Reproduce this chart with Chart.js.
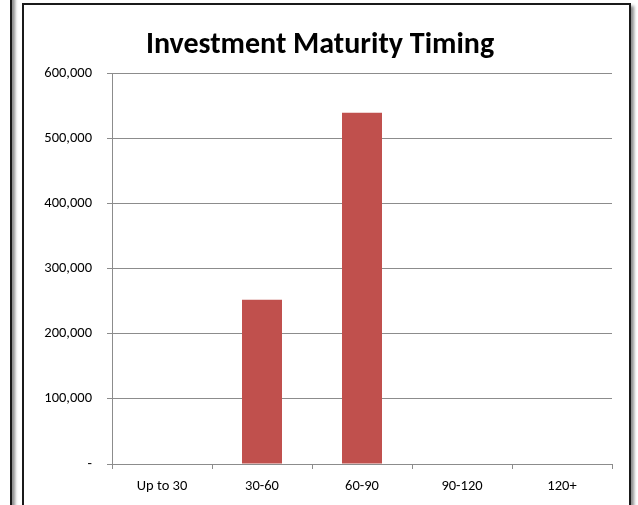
<!DOCTYPE html>
<html>
<head>
<meta charset="utf-8">
<script src="https://cdn.jsdelivr.net/npm/chart.js@4.4.0/dist/chart.umd.min.js"></script>
<style>
  html, body { margin: 0; padding: 0; background: #fff; overflow: hidden; }
  .frame-left { position: absolute; left: -100px; top: -10px; width: 108px; height: 600px;
    border: 2px solid #1a1a1a; box-shadow: 3px 3px 3px rgba(0,0,0,0.45); background: #fff; }
  .frame-main { position: absolute; left: 22px; top: 3px; width: 605px; height: 600px;
    border: 2px solid #1a1a1a; box-shadow: 3px 3px 3px rgba(0,0,0,0.45); background: #fff; }
  #wrap { position: absolute; left: 0; top: 0; width: 638px; height: 505px; }
</style>
</head>
<body>
<div class="frame-left"></div>
<div class="frame-main"></div>
<div id="wrap"><canvas id="myChart" width="638" height="505" style="width:638px;height:505px"></canvas></div>
<script>
const kategooriad = ["Up to 30", "30-60", "60-90", "90-120", "120+"];
const vaartused = [0, 252000, 539000, 0, 0];
const yTickVaartused = [0, 100000, 200000, 300000, 400000, 500000, 600000];
const yTickSildid = ["-", "100,000", "200,000", "300,000", "400,000", "500,000", "600,000"];

const fontPere = "Carlito, Lato, 'Open Sans', sans-serif";
const joon = "#8c8c8c";

const ctx = document.getElementById("myChart").getContext("2d");
const myChart = new Chart(ctx, {
  type: "bar",
  data: {
    labels: kategooriad,
    datasets: [
      {
        data: vaartused,
        backgroundColor: "#C0504D",
        borderWidth: 0,
        categoryPercentage: 1,
        barPercentage: 0.4,
      },
    ],
  },
  options: {
    responsive: false,
    animation: false,
    devicePixelRatio: 1,
    layout: { padding: { left: 28, right: 26, top: 0, bottom: 0 } },
    plugins: {
      legend: { display: false },
      tooltip: { enabled: false },
      title: {
        display: true,
        text: "Investment Maturity Timing",
        color: "#000",
        font: { family: fontPere, size: 30, weight: "bold", lineHeight: 1.2 },
        padding: { top: 27, bottom: 10 },
      },
    },
    scales: {
      x: {
        grid: { display: true, drawOnChartArea: false, drawTicks: true, tickLength: 5, color: joon, offset: true },
        border: { display: true, color: joon },
        ticks: { color: "#000", font: { family: fontPere, size: 14.5 }, padding: 9, maxRotation: 0 },
        afterFit: (scale) => { scale.height = 41; },
      },
      y: {
        min: 0,
        max: 600000,
        afterBuildTicks: (scale) => {
          scale.ticks = yTickVaartused.map((v) => ({ value: v }));
        },
        grid: { color: joon, tickLength: 5, drawTicks: true },
        border: { display: true, color: joon },
        ticks: {
          color: "#000",
          font: { family: fontPere, size: 14.5 },
          padding: 15,
          callback: (v) => yTickSildid[yTickVaartused.indexOf(v)],
        },
        afterFit: (scale) => { scale.width = 84; },
      },
    },
  },
});
</script>
</body>
</html>
